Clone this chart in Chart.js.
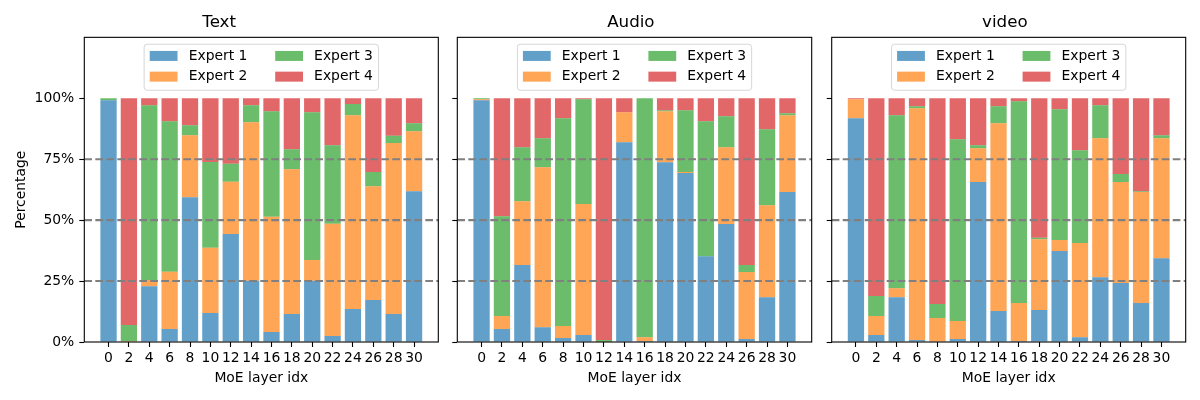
<!DOCTYPE html>
<html>
<head>
<meta charset="utf-8">
<script src="https://cdn.jsdelivr.net/npm/chart.js@4"></script>
<style>
  body { margin: 0; background: #fff; }
  #wrap { position: relative; width: 1200px; height: 400px; }
  canvas { position: absolute; top: 0; }
</style>
</head>
<body>
<div id="wrap">
  <canvas id="textChart" width="450" height="400" style="left:0px"></canvas>
  <canvas id="audioChart" width="374" height="400" style="left:450px"></canvas>
  <canvas id="videoChart" width="376" height="400" style="left:824px"></canvas>
</div>
<script>
const layers = [0, 2, 4, 6, 8, 10, 12, 14, 16, 18, 20, 22, 24, 26, 28, 30];
const experts = ['Expert 1', 'Expert 2', 'Expert 3', 'Expert 4'];
const expertColors = ['rgba(31,119,180,0.7)', 'rgba(255,127,14,0.7)', 'rgba(44,160,44,0.7)', 'rgba(214,39,40,0.7)'];
const yTicks = [0, 25, 50, 75, 100];
const refLines = [25, 50, 75];

// Text
const textE1 = [99.2, 0, 22.9, 5.3, 59.4, 11.9, 44.3, 25.1, 4.1, 11.5, 25.1, 2.5, 13.5, 17.2, 11.5, 61.9];
const textE2 = [0, 0.4, 2.5, 23.5, 25.4, 26.8, 21.4, 65.1, 47.3, 59.4, 8.5, 46.0, 79.5, 46.7, 70.1, 24.6];
const textE3 = [0.8, 6.6, 71.7, 61.8, 4.1, 35.2, 7.4, 6.9, 43.3, 8.2, 60.7, 32.2, 4.7, 5.9, 3.0, 3.3];
const textE4 = [0, 93.0, 2.9, 9.4, 11.1, 26.1, 26.9, 2.9, 5.3, 20.9, 5.7, 19.3, 2.3, 30.2, 15.4, 10.2];

// Audio
const audioE1 = [99.2, 5.3, 31.6, 6.1, 1.6, 2.9, 0, 82.0, 0.4, 73.8, 69.3, 35.2, 48.4, 1.2, 18.4, 61.5];
const audioE2 = [0.4, 5.4, 26.2, 65.6, 5.0, 53.7, 0.1, 12.3, 1.6, 20.9, 0.5, 0, 31.5, 27.5, 37.7, 31.5];
const audioE3 = [0.4, 40.9, 22.1, 11.9, 85.2, 43.0, 0.7, 0, 98.0, 0.4, 25.3, 55.4, 12.7, 2.9, 31.2, 0.9];
const audioE4 = [0, 48.4, 20.1, 16.4, 8.2, 0.4, 99.2, 5.7, 0, 4.9, 4.9, 9.4, 7.4, 68.4, 12.7, 6.1];

// video
const videoE1 = [91.8, 2.9, 18.4, 0.8, 0, 1.2, 65.6, 12.7, 0.4, 13.1, 37.3, 2.0, 26.6, 24.2, 16.0, 34.4];
const videoE2 = [7.8, 7.8, 3.7, 95.1, 9.8, 7.4, 13.9, 77.1, 15.6, 29.1, 4.5, 38.6, 57.0, 41.4, 45.5, 49.2];
const videoE3 = [0, 8.2, 70.9, 0.8, 5.8, 74.6, 1.2, 6.9, 82.8, 0.6, 53.7, 38.1, 13.5, 3.3, 0.4, 1.2];
const videoE4 = [0.4, 81.1, 7.0, 3.3, 84.4, 16.8, 19.3, 3.3, 1.2, 57.2, 4.5, 21.3, 2.9, 31.1, 38.1, 15.2];

const FONT = 'DejaVu Sans';
const labelFont = { family: FONT, size: 13.9 };

// frame, dashed reference lines and the legend inside the axes
const axesDecor = {
  id: 'axesDecor',
  afterDatasetsDraw(chart) {
    const { ctx, chartArea: a, scales: { y } } = chart;
    ctx.save();
    ctx.strokeStyle = 'gray';
    ctx.lineWidth = 2.08;
    ctx.setLineDash([7.7, 3.3]);
    refLines.forEach(v => {
      const py = y.getPixelForValue(v);
      ctx.beginPath();
      ctx.moveTo(a.left, py);
      ctx.lineTo(a.right, py);
      ctx.stroke();
    });
    ctx.setLineDash([]);
    ctx.strokeStyle = '#000';
    ctx.lineWidth = 1.1;
    ctx.strokeRect(a.left, a.top, a.right - a.left, a.bottom - a.top);

    // legend, 2 columns, column-major like matplotlib
    const fs = 13.9;
    ctx.font = fs + 'px "' + FONT + '"';
    const pad = 0.4 * fs, handleW = 2 * fs, textPad = 0.8 * fs, colGap = 2 * fs;
    const colW = [0, 1].map(c => Math.max(ctx.measureText(experts[c * 2]).width, ctx.measureText(experts[c * 2 + 1]).width));
    const boxW = 2 * pad + 2 * (handleW + textPad) + colW[0] + colW[1] + colGap;
    const boxH = 46;
    const bx = (a.left + a.right) / 2 - boxW / 2;
    const by = a.top + 6.9;
    ctx.beginPath();
    if (ctx.roundRect) ctx.roundRect(bx, by, boxW, boxH, 3);
    else ctx.rect(bx, by, boxW, boxH);
    ctx.fillStyle = 'rgba(255,255,255,0.8)';
    ctx.fill();
    ctx.strokeStyle = 'rgba(204,204,204,0.8)';
    ctx.lineWidth = 1;
    ctx.stroke();
    const rowY = [by + 11.7, by + 32.4];
    let cx = bx + pad;
    for (let c = 0; c < 2; c++) {
      for (let r = 0; r < 2; r++) {
        const k = c * 2 + r;
        ctx.fillStyle = expertColors[k];
        ctx.fillRect(cx, rowY[r] - 5, handleW, 10);
        ctx.fillStyle = '#000';
        ctx.textBaseline = 'middle';
        ctx.textAlign = 'left';
        ctx.fillText(experts[k], cx + handleW + textPad, rowY[r]);
      }
      cx += handleW + textPad + colW[c] + colGap;
    }
    ctx.restore();
  }
};

function makeChart(id, title, series, axisWidth, padRight, showY) {
  new Chart(document.getElementById(id), {
    type: 'bar',
    data: {
      datasets: series.map((vals, k) => ({
        label: experts[k],
        data: vals.map((v, i) => ({ x: i, y: v })),
        backgroundColor: expertColors[k],
        borderWidth: 0,
        categoryPercentage: 1,
        barPercentage: 0.8
      }))
    },
    options: {
      responsive: false,
      animation: false,
      devicePixelRatio: 1,
      layout: { padding: { left: 0, right: padRight, top: 0, bottom: 0 } },
      plugins: {
        legend: { display: false },
        tooltip: { enabled: false },
        title: {
          display: true,
          text: title,
          color: '#000',
          font: { family: FONT, size: 16.7, weight: 'normal' },
          padding: { top: 13, bottom: 4.3 }
        }
      },
      scales: {
        x: {
          type: 'linear',
          stacked: true,
          offset: false,
          min: -1.19,
          max: 16.19,
          afterBuildTicks: s => { s.ticks = layers.map((_, i) => ({ value: i })); },
          afterFit: s => { s.height = 58; },
          ticks: {
            callback: v => layers[Math.round(v)],
            autoSkip: false,
            maxRotation: 0,
            padding: 3,
            color: '#000',
            font: labelFont
          },
          grid: { offset: false, drawOnChartArea: false, tickLength: 5, tickColor: '#000', tickWidth: 1.1 },
          border: { display: false },
          title: {
            display: true,
            text: 'MoE layer idx',
            color: '#000',
            font: labelFont,
            padding: { top: 0, bottom: 13.6 }
          }
        },
        y: {
          stacked: true,
          min: 0,
          max: 125,
          afterBuildTicks: s => { s.ticks = yTicks.map(v => ({ value: v })); },
          afterFit: s => { s.width = axisWidth; },
          ticks: {
            display: showY,
            callback: v => v + '%',
            padding: 5,
            color: '#000',
            font: labelFont
          },
          grid: { drawOnChartArea: false, tickLength: 5, tickColor: '#000', tickWidth: 1.1 },
          border: { display: false },
          title: {
            display: showY,
            text: 'Percentage',
            color: '#000',
            font: labelFont,
            padding: { top: 13, bottom: 0 }
          }
        }
      }
    },
    plugins: [axesDecor]
  });
}

makeChart('textChart', 'Text', [textE1, textE2, textE3, textE4], 84.3, 11.7, true);
makeChart('audioChart', 'Audio', [audioE1, audioE2, audioE3, audioE4], 7.3, 12.3, false);
makeChart('videoChart', 'video', [videoE1, videoE2, videoE3, videoE4], 7.7, 14.3, false);
</script>
</body>
</html>
